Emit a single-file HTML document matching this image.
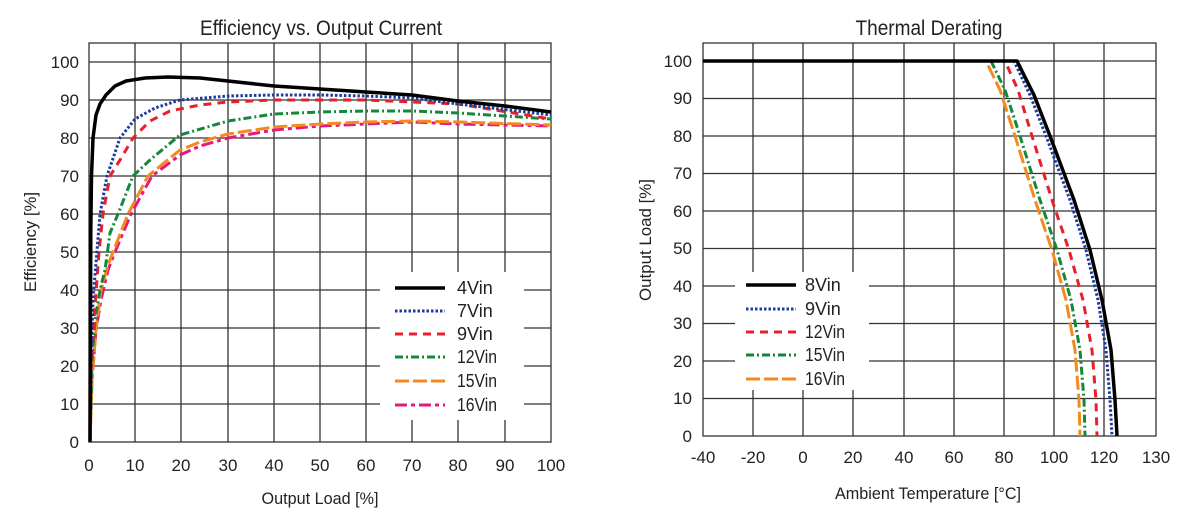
<!DOCTYPE html>
<html><head><meta charset="utf-8"><style>
html,body{margin:0;padding:0;background:#fff;}
svg{display:block;font-family:"Liberation Sans Narrow","Liberation Sans",sans-serif;}
</style></head><body>
<svg width="1200" height="517" viewBox="0 0 1200 517" xmlns="http://www.w3.org/2000/svg">
<g id="L">
<g stroke="#333" stroke-width="1.3" fill="none">
<rect x="89" y="43" width="462" height="399"/>
<path d="M89 62H551M89 100H551M89 138H551M89 176H551M89 214H551M89 252H551M89 290H551M89 328H551M89 366H551M89 404H551"/>
<path d="M135 43V442M181 43V442M228 43V442M274 43V442M320 43V442M366 43V442M412 43V442M458 43V442M505 43V442"/>
</g>
<g font-size="17" fill="#222" text-anchor="end">
<text x="79" y="68">100</text><text x="79" y="106">90</text><text x="79" y="144">80</text><text x="79" y="182">70</text><text x="79" y="220">60</text><text x="79" y="258">50</text><text x="79" y="296">40</text><text x="79" y="334">30</text><text x="79" y="372">20</text><text x="79" y="410">10</text><text x="79" y="448">0</text>
</g>
<g font-size="17" fill="#222" text-anchor="middle">
<text x="89" y="471">0</text><text x="135" y="471">10</text><text x="181" y="471">20</text><text x="228" y="471">30</text><text x="274" y="471">40</text><text x="320" y="471">50</text><text x="366" y="471">60</text><text x="412" y="471">70</text><text x="458" y="471">80</text><text x="505" y="471">90</text><text x="551" y="471">100</text>
<text x="320" y="504" textLength="117" lengthAdjust="spacingAndGlyphs">Output Load [%]</text>
<text x="321" y="35" font-size="21" textLength="242" lengthAdjust="spacingAndGlyphs">Efficiency vs. Output Current</text>
<text transform="translate(36,242) rotate(-90)" textLength="100" lengthAdjust="spacingAndGlyphs">Efficiency [%]</text>
</g>
<g fill="none" stroke-width="3" stroke-linejoin="round">
<path stroke="#e8187a" stroke-dasharray="12,4,4,4" d="M90 442 L92 380 L96 330 L101 300 L108 270 L115 252 L131 214 L152 176 L180 155 L200 146 L228 138 L274 130 L320 126 L366 124 L412 122 L458 124 L551 126"/>
<path stroke="#f28a1e" stroke-dasharray="14,4" d="M90 442 L92 380 L96 330 L101 290 L108 265 L113 252 L128 214 L148 176 L180 150 L200 142 L228 134 L274 127 L320 124 L366 122 L412 121 L458 122 L551 125"/>
<path stroke="#14883a" stroke-dasharray="8,3,2,3" d="M90 442 L92 360 L95 320 L100 290 L105 270 L110 233 L118 214 L133 176 L150 160 L180 135 L228 121 L274 114 L320 112 L366 111 L412 111 L458 113 L551 119"/>
<path stroke="#e8202a" stroke-dasharray="8,6" d="M90 442 L91 370 L94 320 L99 252 L103 214 L110 176 L120 160 L133 138 L150 121 L170 111 L200 105 L228 102 L274 100 L366 100 L412 102 L458 104 L551 119"/>
<path stroke="#1a3c9c" stroke-dasharray="2.5,2" d="M90 442 L91 360 L93 300 L100 214 L107 176 L120 138 L135 119 L155 108 L180 100 L228 96 L274 95 L320 95 L366 96 L412 98 L458 104 L551 115"/>
<path stroke="#000" stroke-width="3.5" d="M90 442 L90.8 230 L91.5 176 L93 138 L96 115 L100 104 L106 95 L115 86 L126 81 L145 78 L168 77 L200 78 L228 81 L274 86 L320 89 L366 92 L412 95 L458 101 L505 106 L551 112"/>
</g>
<rect x="380" y="272" width="144" height="148" fill="#fff"/>
<g fill="none" stroke-width="3">
<path d="M395 288H445" stroke="#000" stroke-width="3.5"/>
<path d="M395 311H445" stroke="#1a3c9c" stroke-dasharray="2.5,2"/>
<path d="M395 334H445" stroke="#e8202a" stroke-dasharray="8,6"/>
<path d="M395 357H445" stroke="#14883a" stroke-dasharray="8,3,2,3"/>
<path d="M395 381H445" stroke="#f28a1e" stroke-dasharray="14,4"/>
<path d="M395 405H445" stroke="#e8187a" stroke-dasharray="12,4,4,4"/>
</g>
<g font-size="18" fill="#222">
<text x="457" y="294">4Vin</text><text x="457" y="317">7Vin</text><text x="457" y="340">9Vin</text><text x="457" y="363" textLength="40" lengthAdjust="spacingAndGlyphs">12Vin</text><text x="457" y="387" textLength="40" lengthAdjust="spacingAndGlyphs">15Vin</text><text x="457" y="411" textLength="40" lengthAdjust="spacingAndGlyphs">16Vin</text>
</g>
</g>
<g id="R">
<g stroke="#333" stroke-width="1.3" fill="none">
<rect x="703" y="43" width="453" height="393"/>
<path d="M703 61H1156M703 98.5H1156M703 136H1156M703 173.5H1156M703 211H1156M703 248.5H1156M703 286H1156M703 323.5H1156M703 361H1156M703 398.5H1156"/>
<path d="M753 43V436M803 43V436M853 43V436M904 43V436M954 43V436M1004 43V436M1054 43V436M1104 43V436"/>
</g>
<g font-size="17" fill="#222" text-anchor="end">
<text x="692" y="67">100</text><text x="692" y="104">90</text><text x="692" y="142">80</text><text x="692" y="179">70</text><text x="692" y="217">60</text><text x="692" y="254">50</text><text x="692" y="292">40</text><text x="692" y="329">30</text><text x="692" y="367">20</text><text x="692" y="404">10</text><text x="692" y="442">0</text>
</g>
<g font-size="17" fill="#222" text-anchor="middle">
<text x="703" y="463">-40</text><text x="753" y="463">-20</text><text x="803" y="463">0</text><text x="853" y="463">20</text><text x="904" y="463">40</text><text x="954" y="463">60</text><text x="1004" y="463">80</text><text x="1054" y="463">100</text><text x="1104" y="463">120</text><text x="1156" y="463">130</text>
<text x="928" y="499" textLength="186" lengthAdjust="spacingAndGlyphs">Ambient Temperature [°C]</text>
<text x="929" y="35" font-size="21" textLength="147" lengthAdjust="spacingAndGlyphs">Thermal Derating</text>
<text transform="translate(651,240) rotate(-90)" textLength="122" lengthAdjust="spacingAndGlyphs">Output Load [%]</text>
</g>
<g fill="none" stroke-width="3" stroke-linejoin="round">
<path stroke="#f28a1e" stroke-dasharray="14,4" d="M703 61 L986 61 L1000 90 L1015 136 L1035 200 L1052 250 L1066 300 L1075 350 L1079 400 L1080 436"/>
<path stroke="#14883a" stroke-dasharray="8,3,2,3" d="M703 61 L991 61 L1005 90 L1020 136 L1040 200 L1057 250 L1071 300 L1080 350 L1084 400 L1085 436"/>
<path stroke="#e8202a" stroke-dasharray="8,6" d="M703 61 L1005 61 L1018 90 L1032 136 L1052 200 L1069 250 L1083 300 L1092 350 L1096 400 L1097 436"/>
<path stroke="#1a3c9c" stroke-dasharray="2.5,2" d="M703 61 L1014 61 L1030 95 L1046 136 L1070 200 L1086 250 L1098 300 L1106 350 L1110 400 L1112 436"/>
<path stroke="#000" stroke-width="3.5" d="M703 61 L1017 61 L1034 95 L1050 136 L1074 200 L1090 250 L1102 300 L1111 350 L1115 400 L1117 436"/>
</g>
<rect x="735" y="272" width="134" height="118" fill="#fff"/>
<g fill="none" stroke-width="3">
<path d="M746 285H796" stroke="#000" stroke-width="3.5"/>
<path d="M746 309H796" stroke="#1a3c9c" stroke-dasharray="2.5,2"/>
<path d="M746 332H796" stroke="#e8202a" stroke-dasharray="8,6"/>
<path d="M746 355H796" stroke="#14883a" stroke-dasharray="8,3,2,3"/>
<path d="M746 379H796" stroke="#f28a1e" stroke-dasharray="14,4"/>
</g>
<g font-size="18" fill="#222">
<text x="805" y="291">8Vin</text><text x="805" y="315">9Vin</text><text x="805" y="338" textLength="40" lengthAdjust="spacingAndGlyphs">12Vin</text><text x="805" y="361" textLength="40" lengthAdjust="spacingAndGlyphs">15Vin</text><text x="805" y="385" textLength="40" lengthAdjust="spacingAndGlyphs">16Vin</text>
</g>
</g>
</svg>
</body></html>
